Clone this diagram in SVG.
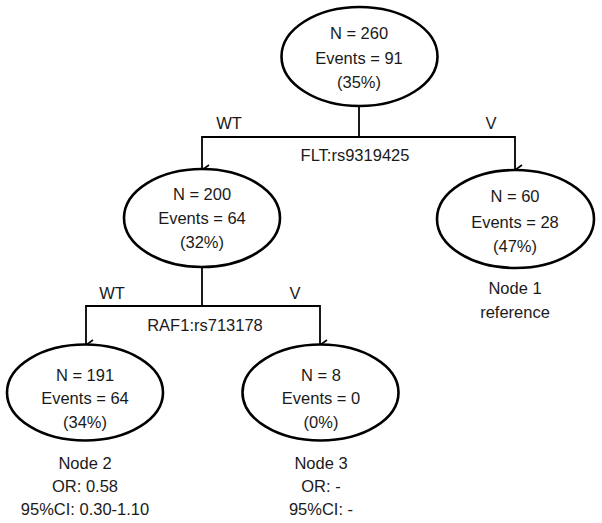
<svg xmlns="http://www.w3.org/2000/svg" width="602" height="523" viewBox="0 0 602 523">
<defs>
<marker id="arr" viewBox="0 0 12 12" refX="6" refY="11" markerWidth="12" markerHeight="12" markerUnits="userSpaceOnUse" orient="auto-start-reverse">
<path d="M1,4 L6,11 L11,4" fill="none" stroke="#000" stroke-width="1.6"/>
</marker>
<style>
text{font-family:"Liberation Sans",Arial,sans-serif;font-size:16.5px;fill:#1a1a1a;text-anchor:middle}
ellipse{fill:#fff;stroke:#000;stroke-width:2.6}
.c{fill:none;stroke:#000;stroke-width:1.8}
</style>
</defs>
<rect width="602" height="523" fill="#fff"/>
<g id="connectors">
<path class="c" d="M359,106 V137"/>
<path class="c" d="M202,170 V137 H515 V170" marker-start="url(#arr)" marker-end="url(#arr)"/>
<path class="c" d="M202,267 V306"/>
<path class="c" d="M86,345 V306 H320 V345" marker-start="url(#arr)" marker-end="url(#arr)"/>
<text x="229" y="129">WT</text>
<text x="491" y="129">V</text>
<text x="355" y="161">FLT:rs9319425</text>
<text x="112" y="299">WT</text>
<text x="295" y="299">V</text>
<text x="205" y="331">RAF1:rs713178</text>
</g>
<g id="root">
<ellipse cx="359.5" cy="56.5" rx="78" ry="49.5"/>
<text x="359" y="39">N = 260</text>
<text x="359" y="64">Events = 91</text>
<text x="359" y="88">(35%)</text>
</g>
<g id="n200">
<ellipse cx="202" cy="218" rx="78" ry="49"/>
<text x="202" y="200">N = 200</text>
<text x="202" y="224">Events = 64</text>
<text x="202" y="248">(32%)</text>
</g>
<g id="node1">
<ellipse cx="515.5" cy="219" rx="78.5" ry="49"/>
<text x="515" y="202">N = 60</text>
<text x="515" y="228">Events = 28</text>
<text x="515" y="252">(47%)</text>
<text x="515" y="294">Node 1</text>
<text x="515" y="318">reference</text>
</g>
<g id="node2">
<ellipse cx="85" cy="392.5" rx="78" ry="48"/>
<text x="85" y="381">N = 191</text>
<text x="85" y="404">Events = 64</text>
<text x="85" y="428">(34%)</text>
<text x="85" y="469">Node 2</text>
<text x="85" y="492">OR: 0.58</text>
<text x="85" y="515">95%CI: 0.30-1.10</text>
</g>
<g id="node3">
<ellipse cx="320.5" cy="392.5" rx="78" ry="48"/>
<text x="321" y="381">N = 8</text>
<text x="321" y="404">Events = 0</text>
<text x="321" y="428">(0%)</text>
<text x="321" y="469">Node 3</text>
<text x="321" y="492">OR: -</text>
<text x="321" y="515">95%CI: -</text>
</g>
</svg>
